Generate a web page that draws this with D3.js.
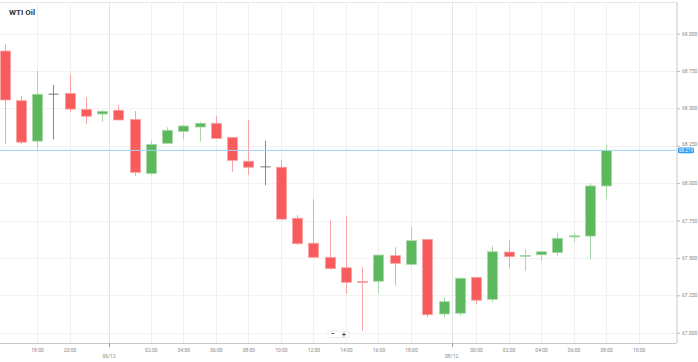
<!DOCTYPE html>
<html>
<head>
<meta charset="utf-8">
<script src="https://cdn.jsdelivr.net/npm/d3@7"></script>
<style>
  body { margin: 0; background: #fff; }
  #chart { width: 698px; height: 362px; }
  text { font-family: Roboto, "Open Sans", sans-serif; }
</style>
</head>
<body>
<div id="chart"></div>
<script>
// hourly candles
var opens  = [68.883, 68.551, 68.281, 68.598, 68.600, 68.493, 68.462, 68.487, 68.426, 68.065,
              68.266, 68.346, 68.375, 68.400, 68.306, 68.146, 68.112, 68.106, 67.765, 67.598,
              67.504, 67.434, 67.343, 67.344, 67.515, 67.457, 67.624, 67.125, 67.130, 67.370,
              67.223, 67.539, 67.512, 67.521, 67.535, 67.640, 67.646, 67.981];
var closes = [68.556, 68.274, 68.594, 68.598, 68.495, 68.447, 68.480, 68.422, 68.072, 68.259,
              68.353, 68.382, 68.400, 68.299, 68.152, 68.106, 68.112, 67.759, 67.595, 67.504,
              67.428, 67.337, 67.337, 67.519, 67.464, 67.615, 67.120, 67.207, 67.364, 67.217,
              67.541, 67.508, 67.517, 67.541, 67.631, 67.648, 67.981, 68.219];
var highs  = [68.930, 68.583, 68.751, 68.656, 68.725, 68.574, 68.489, 68.522, 68.482, 68.283,
              68.373, 68.388, 68.410, 68.449, 68.306, 68.422, 68.283, 68.154, 67.787, 67.892,
              67.753, 67.780, 67.437, 67.519, 67.571, 67.709, 67.624, 67.237, 67.368, 67.370,
              67.580, 67.620, 67.557, 67.546, 67.668, 67.668, 67.999, 68.257];
var lows   = [68.261, 68.261, 68.228, 68.293, 68.473, 68.393, 68.410, 68.422, 68.049, 68.054,
              68.266, 68.293, 68.277, 68.299, 68.076, 68.054, 67.987, 67.759, 67.586, 67.504,
              67.424, 67.259, 67.013, 67.263, 67.314, 67.448, 67.103, 67.103, 67.112, 67.192,
              67.203, 67.435, 67.412, 67.481, 67.513, 67.604, 67.491, 67.892];

var priceTicks = [67.0, 67.25, 67.5, 67.75, 68.0, 68.25, 68.5, 68.75, 69.0];
var lastPrice = 68.219;

// time labels sit on candle slots; the two date markers fall between slots
var timeTickSlots  = [2, 4, 9, 11, 13, 15, 17, 19, 21, 23, 25, 29, 31, 33, 35, 37, 39];
var timeTickLabels = ["18:00", "20:00", "02:00", "04:00", "06:00", "08:00", "10:00", "12:00", "14:00",
                      "16:00", "18:00", "00:00", "02:00", "04:00", "06:00", "08:00", "10:00"];
var dateSlots  = [6.43, 27.5];
var dateLabels = ["06/12", "08/12"];

var width = 698, height = 362;
var plotLeft = 0, plotRight = 676.5, plotTop = 2, plotBottom = 343;

var svg = d3.select("#chart")
    .append("svg")
    .attr("width", width)
    .attr("height", height);

var x = d3.scaleLinear()
    .domain([-0.277, 41.33])
    .range([plotLeft, plotRight]);

var y = d3.scaleLinear()
    .domain([66.931, 69.211])
    .range([plotBottom, plotTop]);

var candles = opens.map(function(o, i) {
    return { i: i, open: o, close: closes[i], high: highs[i], low: lows[i] };
});

// grid
var grid = svg.append("g");
grid.append("line")
    .attr("x1", plotLeft).attr("x2", plotRight)
    .attr("y1", plotTop + 0.5).attr("y2", plotTop + 0.5)
    .attr("stroke", "#e6e6e6");

grid.selectAll(".hgrid")
    .data(priceTicks)
    .enter().append("line")
    .attr("x1", plotLeft).attr("x2", plotRight)
    .attr("y1", function(d) { return Math.round(y(d)) + 0.5; })
    .attr("y2", function(d) { return Math.round(y(d)) + 0.5; })
    .attr("stroke", "#f2f2f2");

grid.selectAll(".vgrid")
    .data(timeTickSlots)
    .enter().append("line")
    .attr("x1", function(d) { return Math.round(x(d)) + 0.5; })
    .attr("x2", function(d) { return Math.round(x(d)) + 0.5; })
    .attr("y1", plotTop).attr("y2", plotBottom)
    .attr("stroke", "#f0f0f0");

grid.selectAll(".dgrid")
    .data(dateSlots)
    .enter().append("line")
    .attr("x1", function(d) { return Math.round(x(d)) + 0.5; })
    .attr("x2", function(d) { return Math.round(x(d)) + 0.5; })
    .attr("y1", plotTop).attr("y2", plotBottom)
    .attr("stroke", "#e4e4e4");

// axes lines
svg.append("line")
    .attr("x1", plotLeft).attr("x2", plotRight)
    .attr("y1", plotBottom + 0.5).attr("y2", plotBottom + 0.5)
    .attr("stroke", "#c8c8c8");
svg.append("line")
    .attr("x1", plotRight + 0.5).attr("x2", plotRight + 0.5)
    .attr("y1", plotTop).attr("y2", plotBottom)
    .attr("stroke", "#c8c8c8");

// y axis on the right
var yAxis = svg.append("g")
    .attr("transform", "translate(" + (plotRight + 0.5) + ",0)")
    .call(d3.axisRight(y)
        .tickValues(priceTicks)
        .tickSize(3)
        .tickPadding(2)
        .tickFormat(d3.format(".3f")));
yAxis.select(".domain").remove();
yAxis.selectAll("line").attr("stroke", "#bbb");
yAxis.selectAll("text")
    .attr("fill", "#888")
    .attr("font-size", "5px")
    .attr("font-family", "Roboto, sans-serif");
// the price tag sits just under the 68.250 label, lift that one a touch
yAxis.selectAll("text")
    .filter(function(d) { return d === 68.25; })
    .attr("dy", "-0.05em");

// x axis time labels
var xAxis = svg.append("g")
    .attr("transform", "translate(0," + (plotBottom + 0.5) + ")")
    .call(d3.axisBottom(x)
        .tickValues(timeTickSlots)
        .tickSize(0)
        .tickPadding(5)
        .tickFormat(function(d, i) { return timeTickLabels[i]; }));
xAxis.select(".domain").remove();
xAxis.selectAll("text")
    .attr("fill", "#888")
    .attr("font-size", "5px")
    .attr("font-family", "Roboto, sans-serif");

var dates = svg.append("g");
dates.selectAll("line")
    .data(dateSlots)
    .enter().append("line")
    .attr("x1", function(d) { return Math.round(x(d)) + 0.5; })
    .attr("x2", function(d) { return Math.round(x(d)) + 0.5; })
    .attr("y1", plotBottom).attr("y2", plotBottom + 4)
    .attr("stroke", "#999");
dates.selectAll("text")
    .data(dateSlots)
    .enter().append("text")
    .attr("x", function(d) { return x(d); })
    .attr("y", plotBottom + 15)
    .attr("text-anchor", "middle")
    .attr("fill", "#888")
    .attr("font-size", "5px")
    .text(function(d, i) { return dateLabels[i]; });

// candles
var red = "#f75b5b", green = "#5cb85c", flat = "#777";
var redWick = "#f9a3a3", greenWick = "#a8d8a8", flatWick = "#888";
var bodyW = 10;

function candleColor(d) {
    if (d.close > d.open) return green;
    if (d.close < d.open) return red;
    return flat;
}
function wickColor(d) {
    if (d.close > d.open) return greenWick;
    if (d.close < d.open) return redWick;
    return flatWick;
}

var candle = svg.append("g")
    .selectAll("g")
    .data(candles)
    .enter().append("g");

candle.append("line")
    .attr("x1", function(d) { return Math.round(x(d.i)) + 0.5; })
    .attr("x2", function(d) { return Math.round(x(d.i)) + 0.5; })
    .attr("y1", function(d) { return y(d.high); })
    .attr("y2", function(d) { return y(d.low); })
    .attr("stroke", wickColor)
    .attr("stroke-width", 1);

candle.append("rect")
    .attr("x", function(d) { return Math.round(x(d.i)) + 0.5 - bodyW / 2; })
    .attr("y", function(d) { return y(Math.max(d.open, d.close)); })
    .attr("width", bodyW)
    .attr("height", function(d) { return Math.max(1, Math.abs(y(d.open) - y(d.close))); })
    .attr("fill", candleColor)
    .attr("stroke", function(d) { return d.close === d.open ? "none" : wickColor(d); })
    .attr("stroke-width", 0.8);

// current price line and tag
svg.append("line")
    .attr("x1", plotLeft).attr("x2", plotRight)
    .attr("y1", y(lastPrice)).attr("y2", y(lastPrice))
    .attr("stroke", "#9fd3f7")
    .attr("stroke-width", 1);

var tag = svg.append("g")
    .attr("transform", "translate(" + (plotRight + 1.5) + "," + y(lastPrice) + ")");
tag.append("rect")
    .attr("x", 0).attr("y", -2.8)
    .attr("width", 16).attr("height", 5.6)
    .attr("rx", 1.5)
    .attr("fill", "#2d9cf0");
tag.append("text")
    .attr("x", 8).attr("y", 1.6)
    .attr("text-anchor", "middle")
    .attr("fill", "#fff")
    .attr("font-size", "4.5px")
    .text(d3.format(".3f")(lastPrice));

// title
svg.append("text")
    .attr("x", 9)
    .attr("y", 15)
    .attr("fill", "#333")
    .attr("font-size", "8px")
    .attr("font-weight", "bold")
    .text("WTI Oil");

// zoom buttons
var zoomBox = svg.append("g")
    .attr("transform", "translate(328,331)");
zoomBox.append("rect")
    .attr("width", 21).attr("height", 6.5)
    .attr("fill", "#fff")
    .attr("stroke", "#e0e0e0")
    .attr("stroke-width", 0.6);
zoomBox.append("text")
    .attr("x", 5).attr("y", 5.3)
    .attr("text-anchor", "middle")
    .attr("fill", "#444")
    .attr("font-size", "7px")
    .attr("font-weight", "bold")
    .text("−");
zoomBox.append("text")
    .attr("x", 16).attr("y", 5.5)
    .attr("text-anchor", "middle")
    .attr("fill", "#444")
    .attr("font-size", "7px")
    .attr("font-weight", "bold")
    .text("+");
</script>
</body>
</html>
